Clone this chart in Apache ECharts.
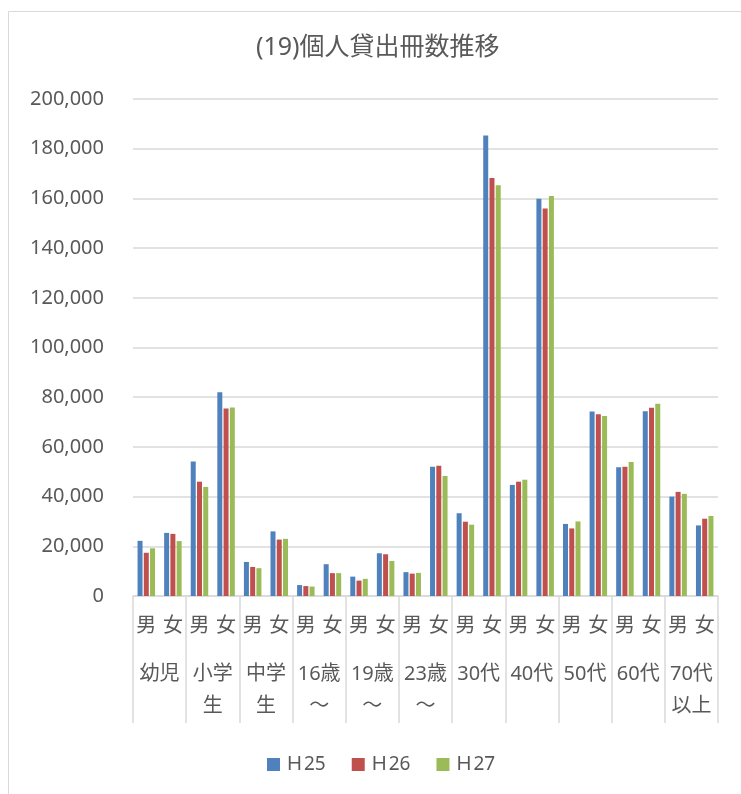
<!DOCTYPE html>
<html>
<head>
<meta charset="utf-8">
<script src="https://cdn.jsdelivr.net/npm/echarts@6/dist/echarts.min.js"></script>
<style>
  html, body { margin: 0; padding: 0; background: #fff; }
  #chart { width: 741px; height: 794px; }
</style>
</head>
<body>
<div id="chart"></div>
<script>
var sexLabels = ['男', '女', '男', '女', '男', '女', '男', '女', '男', '女', '男', '女',
  '男', '女', '男', '女', '男', '女', '男', '女', '男', '女'];
var groupLabels = ['幼児', '小学\n生', '中学\n生', '16歳\n～', '19歳\n～', '23歳\n～',
  '30代', '40代', '50代', '60代', '70代\n以上'];
var seriesNames = ['Ｈ25', 'Ｈ26', 'Ｈ27'];
var h25 = [22200, 25400, 54100, 82000, 13700, 26000, 4400, 12800, 7800, 17200, 9600, 52000,
  33300, 185300, 44700, 159900, 29000, 74200, 51800, 74300, 40000, 28400];
var h26 = [17400, 25000, 46000, 75500, 11700, 22700, 4000, 9200, 6200, 16800, 9000, 52400,
  29900, 168200, 46000, 155900, 27200, 73100, 52000, 75800, 41900, 31100];
var h27 = [19200, 22100, 43900, 75900, 11200, 23000, 3800, 9200, 6900, 14100, 9300, 48300,
  28700, 165300, 46800, 161000, 30000, 72400, 53900, 77400, 41100, 32200];
var yTicks = { min: 0, max: 200000, interval: 20000 };

var colors = ['#4F81BD', '#C0504D', '#9BBB59'];
var font = "'Noto Sans', 'Noto Sans CJK JP', sans-serif";
var textColor = '#595959';
var lineColor = '#d9d9d9';

var chart = echarts.init(document.getElementById('chart'));

function makeBar(name, data) {
  return {
    name: name,
    type: 'bar',
    xAxisIndex: 0,
    data: data,
    barWidth: 5,
    barGap: '25%'
  };
}

var option = {
  animation: false,
  color: colors,
  textStyle: { fontFamily: font },
  graphic: [{
    type: 'rect',
    shape: { x: 8.5, y: 11.5, width: 800, height: 800 },
    style: { fill: 'none', stroke: lineColor, lineWidth: 1 },
    silent: true
  }],
  title: {
    text: '(19)個人貸出冊数推移',
    left: 251,
    top: 30,
    textStyle: { fontFamily: font, fontSize: 25, fontWeight: 'normal', color: textColor }
  },
  legend: {
    data: seriesNames,
    left: 262,
    top: 750,
    icon: 'rect',
    itemWidth: 13,
    itemHeight: 13,
    itemGap: 26,
    textStyle: { fontFamily: font, fontSize: 19, color: textColor }
  },
  grid: { left: 133, right: 23, top: 99, bottom: 198, containLabel: false },
  xAxis: [{
    type: 'category',
    data: sexLabels,
    position: 'bottom',
    axisLine: { lineStyle: { color: lineColor, width: 1.5 } },
    axisTick: { show: false },
    axisLabel: {
      interval: 0, margin: 20, fontSize: 20, color: textColor, fontFamily: font
    }
  }, {
    type: 'category',
    data: groupLabels,
    position: 'bottom',
    axisLine: { show: false },
    axisTick: { show: true, length: 127, lineStyle: { color: lineColor, width: 1.5 } },
    axisLabel: {
      interval: 0, margin: 62, fontSize: 20, lineHeight: 32, color: textColor, fontFamily: font
    }
  }],
  yAxis: {
    type: 'value',
    min: yTicks.min,
    max: yTicks.max,
    interval: yTicks.interval,
    axisLine: { show: false },
    axisTick: { show: false },
    splitLine: { lineStyle: { color: lineColor, width: 1.5 } },
    axisLabel: {
      margin: 29, fontSize: 20, color: textColor, fontFamily: font,
      formatter: function (v) { return v.toLocaleString('en-US'); }
    }
  },
  series: [
    makeBar(seriesNames[0], h25),
    makeBar(seriesNames[1], h26),
    makeBar(seriesNames[2], h27)
  ]
};

chart.setOption(option);
</script>
</body>
</html>
